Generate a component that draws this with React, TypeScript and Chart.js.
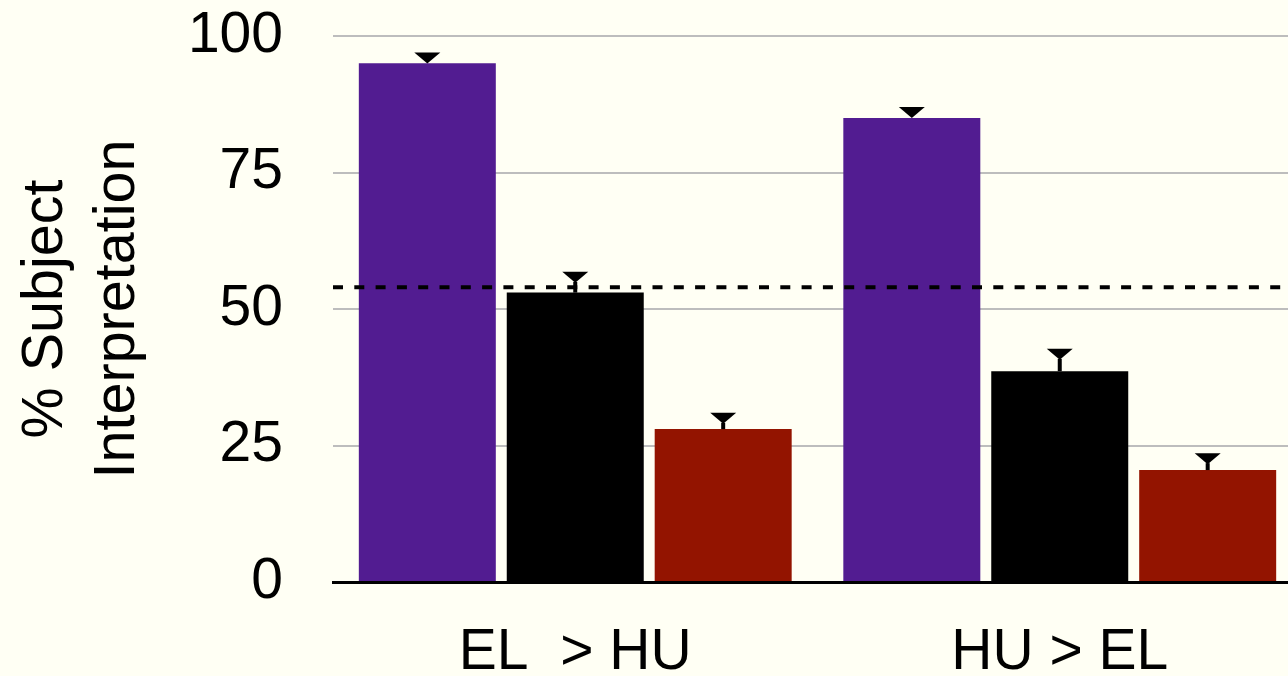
import { useEffect, useRef } from "react";
import { Chart, registerables } from "chart.js";

Chart.register(...registerables);

// Condition groups on the x axis
const categories = ["EL  > HU", "HU > EL"];

// Percentage of subject interpretations per condition
const purpleValues = [95, 85];
const blackValues = [53, 38.6];
const redValues = [28, 20.5];

// Upper error bar lengths (percentage points)
const purpleErrors = [2, 2];
const blackErrors = [3.8, 4.1];
const redErrors = [3, 3.1];

// Reference level shown as the dashed horizontal line
const chanceLevel = 54;

const yTicks = [0, 25, 50, 75, 100];

const BG = "#fffff4";
const FONT = "'Liberation Sans', Arial, Helvetica, sans-serif";

const errorSets = [purpleErrors, blackErrors, redErrors];

const referenceLinePlugin = {
  id: "referenceLine",
  afterDatasetsDraw(chart: any) {
    const { ctx, chartArea } = chart;
    const y = chart.scales.y.getPixelForValue(chanceLevel);
    ctx.save();
    ctx.strokeStyle = "#000";
    ctx.lineWidth = 4;
    ctx.setLineDash([10, 11.3]);
    ctx.beginPath();
    ctx.moveTo(chartArea.left, y);
    ctx.lineTo(chartArea.right, y);
    ctx.stroke();
    ctx.restore();
  },
};

const errorBarPlugin = {
  id: "errorBars",
  afterDatasetsDraw(chart: any) {
    const { ctx } = chart;
    const yScale = chart.scales.y;
    chart.data.datasets.forEach((ds: any, i: number) => {
      const meta = chart.getDatasetMeta(i);
      const errs = errorSets[i];
      meta.data.forEach((bar: any, j: number) => {
        const value = ds.data[j] as number;
        const top = yScale.getPixelForValue(value + errs[j]);
        const barTop = bar.y;
        const capW = 26;
        const capH = 11;
        ctx.save();
        ctx.fillStyle = "#000";
        // stem
        if (barTop > top + capH) {
          ctx.fillRect(bar.x - 2, top + capH - 1, 4, barTop - (top + capH) + 1);
        }
        // downward cap
        ctx.beginPath();
        ctx.moveTo(bar.x - capW / 2, top);
        ctx.lineTo(bar.x + capW / 2, top);
        ctx.lineTo(bar.x, top + capH);
        ctx.closePath();
        ctx.fill();
        ctx.restore();
      });
    });
  },
};

export default function App() {
  const canvasRef = useRef<HTMLCanvasElement | null>(null);

  useEffect(() => {
    document.body.style.margin = "0";
    document.body.style.background = BG;
    const canvas = canvasRef.current;
    if (!canvas) return;
    const chart = new Chart(canvas, {
      type: "bar",
      data: {
        labels: categories,
        datasets: [
          { data: purpleValues, backgroundColor: "#521c91" },
          { data: blackValues, backgroundColor: "#000000" },
          { data: redValues, backgroundColor: "#931400" },
        ],
      },
      options: {
        responsive: false,
        animation: false,
        devicePixelRatio: 1,
        categoryPercentage: 0.916,
        barPercentage: 0.926,
        layout: { padding: { top: 36, left: 0, right: 0, bottom: 0 } },
        plugins: {
          legend: { display: false },
          tooltip: { enabled: false },
        },
        scales: {
          x: {
            grid: { display: false, drawTicks: false },
            border: { display: true, color: "#000", width: 3 },
            ticks: {
              color: "#000",
              padding: 37,
              font: { family: FONT, size: 57 },
              maxRotation: 0,
            },
            afterFit(scale: any) {
              scale.height = 94;
              scale.paddingLeft = 0;
              scale.paddingRight = 0;
            },
          },
          y: {
            min: 0,
            max: 100,
            grid: { color: "#bdbdbd", lineWidth: 2, drawTicks: false },
            border: { display: false },
            ticks: {
              color: "#000",
              padding: 50,
              font: { family: FONT, size: 57 },
            },
            afterBuildTicks(scale: any) {
              scale.ticks = yTicks.map((v) => ({ value: v }));
            },
            title: {
              display: true,
              text: ["% Subject", "Interpretation"],
              color: "#000",
              padding: { top: 10, bottom: 0 },
              font: { family: FONT, size: 57.5, lineHeight: 1.25 },
            },
            afterFit(scale: any) {
              scale.width = 333;
              scale.paddingTop = 0;
              scale.paddingBottom = 0;
            },
          },
        },
      },
      plugins: [referenceLinePlugin, errorBarPlugin],
    });
    return () => chart.destroy();
  }, []);

  return (
    <div
      style={{
        position: "fixed",
        left: 0,
        top: 0,
        width: 1288,
        height: 676,
        overflow: "hidden",
        background: BG,
      }}
    >
      <canvas
        ref={canvasRef}
        width={1302}
        height={676}
        style={{ width: 1302, height: 676, display: "block" }}
      />
    </div>
  );
}
